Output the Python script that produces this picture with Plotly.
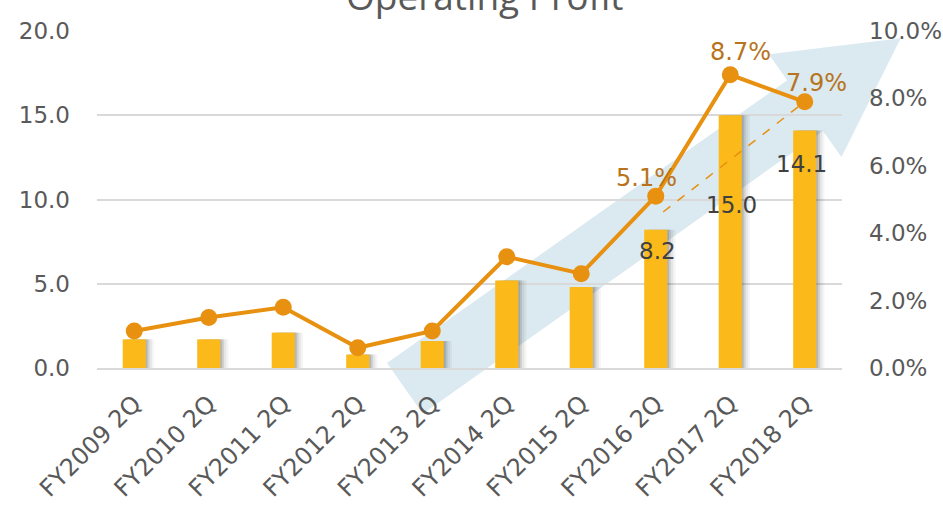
import math
import plotly.graph_objects as go

# ---------------- data ----------------
categories = ["FY2009 2Q", "FY2010 2Q", "FY2011 2Q", "FY2012 2Q", "FY2013 2Q",
              "FY2014 2Q", "FY2015 2Q", "FY2016 2Q", "FY2017 2Q", "FY2018 2Q"]
profit = [1.7, 1.7, 2.1, 0.8, 1.6, 5.2, 4.8, 8.2, 15.0, 14.1]
margin = [1.1, 1.5, 1.8, 0.6, 1.1, 3.3, 2.8, 5.1, 8.7, 7.9]
left_ticks = [0, 5, 10, 15, 20]
left_labels = ["0.0", "5.0", "10.0", "15.0", "20.0"]
right_ticks = [0, 2, 4, 6, 8, 10]
right_labels = ["0.0%", "2.0%", "4.0%", "6.0%", "8.0%", "10.0%"]
labelled = [7, 8, 9]          # indices that carry value labels
trend_start = (7.1, 4.63)     # dashed trend line start (x index, %)

# ---------------- style ----------------
W, H = 943, 505
ML, MR, MT, MB = 97, 101, 31, 137
PW, PH = W - ML - MR, H - MT - MB
FONT = "DejaVu Sans"
FS = 23
GRAY = "#595959"
BAR = "#FBBA1A"
LINE = "#E8900F"
PCT = "#B7741C"
ARROW = "rgb(219,233,240)"

def px2paper(px, py):
    return (px - ML) / PW, (MT + PH - py) / PH

# background arrow (in pixel geometry, converted to paper)
tail = (387, 363)
ang = math.atan2(-0.577, 0.817)
u = (math.cos(ang), math.sin(ang))
n = (-u[1], u[0])
shaft_w, head_base, head_out, tip_len = 62, 490, 32, 607
pts_un = [(0, 0), (head_base, 0), (head_base, -head_out), (tip_len, shaft_w / 2),
          (head_base, shaft_w + head_out), (head_base, shaft_w), (0, shaft_w)]
path = ""
for i, (a, b) in enumerate(pts_un):
    px = tail[0] + a * u[0] + b * n[0]
    py = tail[1] + a * u[1] + b * n[1]
    xp, yp = px2paper(px, py)
    path += ("M" if i == 0 else "L") + f"{xp:.4f},{yp:.4f} "
path += "Z"

fig = go.Figure()

# bar shadows
for off, op in [(0.11, 0.05), (0.08, 0.08), (0.05, 0.12), (0.025, 0.18)]:
    fig.add_trace(go.Bar(x=categories, y=profit, width=0.31, offset=-0.155 + off,
                         marker=dict(color=f"rgba(60,60,60,{op})", line=dict(width=0)),
                         hoverinfo="skip", showlegend=False))
fig.add_trace(go.Bar(x=categories, y=profit, width=0.31, offset=-0.155,
                     marker=dict(color=BAR, line=dict(width=0)), showlegend=False))
fig.add_trace(go.Scatter(x=categories, y=margin, yaxis="y2", mode="lines+markers",
                         line=dict(color=LINE, width=4),
                         marker=dict(color=LINE, size=17), showlegend=False))

shapes = [dict(type="path", path=path, xref="paper", yref="paper",
               fillcolor=ARROW, line=dict(width=0), layer="below"),
          dict(type="line", xref="x", yref="y2",
               x0=trend_start[0], y0=trend_start[1], x1=labelled[-1], y1=margin[labelled[-1]],
               line=dict(color=LINE, width=1.5, dash="dash"))]

bar_shift = {7: (2, -21), 8: (1, -90), 9: (-3, -34)}
pct_shift = {7: (-9, 18), 8: (10, 23), 9: (12, 19)}
annotations = []
for i in labelled:
    dx, dy = bar_shift[i]
    annotations.append(dict(x=categories[i], y=profit[i], xref="x", yref="y",
                            text=f"{profit[i]:.1f}", showarrow=False,
                            xshift=dx, yshift=dy, font=dict(family=FONT, size=FS, color="#404040")))
    dx, dy = pct_shift[i]
    annotations.append(dict(x=categories[i], y=margin[i], xref="x", yref="y2",
                            text=f"{margin[i]:.1f}%", showarrow=False,
                            xshift=dx, yshift=dy, font=dict(family=FONT, size=FS + 1, color=PCT)))
annotations.append(dict(x=(485 - ML) / PW, y=1, xref="paper", yref="paper",
                        text="Operating Profit", showarrow=False, xanchor="center",
                        yanchor="bottom", yshift=8,
                        font=dict(family="Open Sans", size=37, color=GRAY)))

fig.update_layout(
    width=W, height=H, margin=dict(l=ML, r=MR, t=MT, b=MB, autoexpand=False),
    paper_bgcolor="white", plot_bgcolor="rgba(0,0,0,0)",
    barmode="overlay", showlegend=False,
    font=dict(family=FONT, size=FS, color=GRAY),
    shapes=shapes, annotations=annotations,
    xaxis=dict(type="category", tickangle=-45, showgrid=False, showline=True,
               linecolor="#D9D9D9", linewidth=2, ticks="", tickfont=dict(size=24, color=GRAY),
               ticklabelstandoff=10, ticklabelshift=0,
               range=[-0.5, len(categories) - 0.5]),
    yaxis=dict(range=[0, 20], tickvals=left_ticks, ticktext=left_labels, showgrid=True,
               gridcolor="#D9D9D9", gridwidth=1.5, zeroline=False, showline=False,
               ticks="", ticklabelstandoff=26, tickfont=dict(size=FS, color=GRAY)),
    yaxis2=dict(range=[0, 10], tickvals=right_ticks, ticktext=right_labels,
                overlaying="y", side="right", showgrid=False, zeroline=False,
                showline=False, ticks="", ticklabelstandoff=26,
                tickfont=dict(size=FS, color=GRAY)),
)

fig.write_html("out.html", config={"displayModeBar": False},
               post_script="document.body.style.margin='0';")
